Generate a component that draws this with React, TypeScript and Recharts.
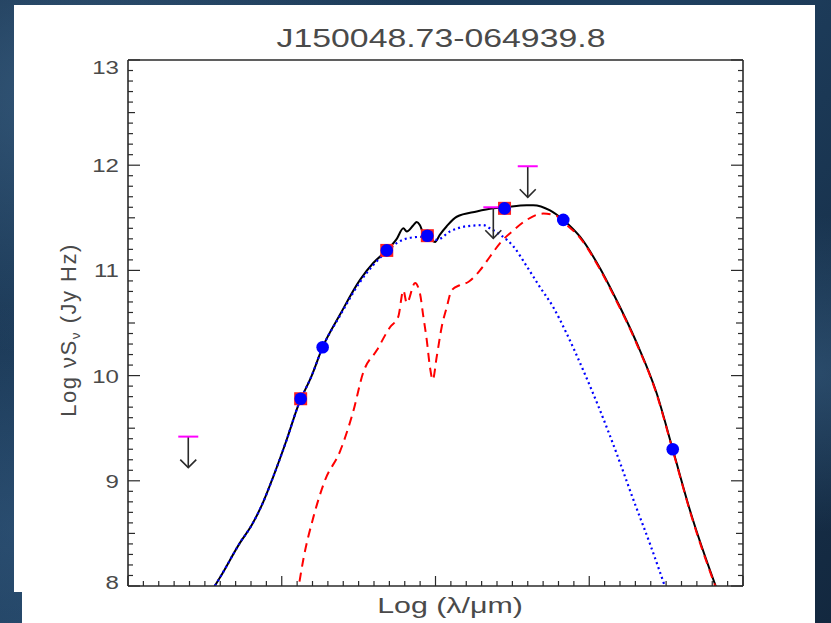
import React from 'react';
import { ComposedChart, Line, Scatter, XAxis, YAxis } from 'recharts';

const TITLE = 'J150048.73-064939.8';

// photometry: log(lambda/um) vs log(nu S_nu / Jy Hz)
const photLogLam = [0.123, 0.266, 0.683, 0.947, 1.449, 1.831, 2.543];
const photLogFlux = [9.78, 10.27, 11.19, 11.33, 11.59, 11.48, 9.3];
// points that sit on a red model square
const photBoxed = [true, false, true, true, true, false, false];

// upper limits
const limLogLam = [-0.608, 1.376, 1.6];
const limLogFlux = [9.42, 11.6, 11.99];

// total model (black solid)
const totalLogLam = [
  -0.47, -0.402, -0.272, -0.195, -0.12, -0.055, 0.032, 0.108, 0.195, 0.266, 0.379, 0.509, 0.595,
  0.683, 0.748, 0.791, 0.813, 0.856, 0.878, 0.899, 0.921, 0.953, 0.997, 1.029, 1.073, 1.138, 1.268,
  1.376, 1.448, 1.593, 1.636, 1.745, 1.831, 1.94, 2.07, 2.156, 2.309, 2.439, 2.543, 2.655, 2.86,
];
const totalLogFlux = [
  7.92, 8.08, 8.41, 8.58, 8.8, 9.04, 9.39, 9.72, 10.0, 10.27, 10.58, 10.91, 11.07,
  11.19, 11.3, 11.4, 11.37, 11.43, 11.46, 11.43, 11.35, 11.32, 11.27, 11.34, 11.42, 11.51, 11.56,
  11.59, 11.6, 11.62, 11.62, 11.57, 11.48, 11.32, 11.02, 10.78, 10.31, 9.83, 9.3, 8.72, 7.85,
];

// stellar component (blue dotted)
const starLogLam = [
  -0.47, -0.402, -0.272, -0.195, -0.12, -0.055, 0.032, 0.108, 0.195, 0.266, 0.379, 0.509, 0.595,
  0.683, 0.748, 0.834, 0.921, 1.008, 1.094, 1.203, 1.311, 1.354, 1.42, 1.506, 1.593, 1.68, 1.766,
  1.853, 1.961, 2.07, 2.178, 2.287, 2.395, 2.51,
];
const starLogFlux = [
  7.92, 8.08, 8.41, 8.58, 8.8, 9.04, 9.39, 9.72, 10.0, 10.27, 10.57, 10.89, 11.05,
  11.18, 11.26, 11.31, 11.32, 11.29, 11.37, 11.42, 11.43, 11.4, 11.34, 11.23, 11.04, 10.84, 10.65,
  10.4, 10.05, 9.67, 9.26, 8.82, 8.4, 7.92,
];

// dust component (red dashed)
const dustLogLam = [
  0.1, 0.14, 0.205, 0.28, 0.379, 0.465, 0.53, 0.618, 0.704, 0.758, 0.791, 0.813, 0.867, 0.899,
  0.921, 0.943, 0.964, 0.982, 1.008, 1.04, 1.073, 1.105, 1.159, 1.213, 1.289, 1.354, 1.42, 1.506,
  1.593, 1.701, 1.786, 1.831, 1.94, 2.07, 2.156, 2.309, 2.439, 2.543, 2.655, 2.86,
];
const dustLogFlux = [
  7.9, 8.25, 8.65, 9.0, 9.28, 9.66, 10.03, 10.24, 10.46, 10.56, 10.81, 10.69, 10.88, 10.78,
  10.56, 10.34, 10.08, 9.96, 10.18, 10.46, 10.65, 10.81, 10.86, 10.89, 11.0, 11.13, 11.26, 11.38,
  11.48, 11.54, 11.52, 11.46, 11.31, 11.01, 10.77, 10.3, 9.82, 9.29, 8.71, 7.84,
];

const xTicks = Array.from({ length: 41 }, (_, i) => -1 + i / 10);
const yTicks = Array.from({ length: 51 }, (_, i) => 8 + i / 10);

const toPoints = (xs: number[], ys: number[]) => xs.map((x, i) => ({ x, y: ys[i] }));
const total = toPoints(totalLogLam, totalLogFlux);
const star = toPoints(starLogLam, starLogFlux);
const dust = toPoints(dustLogLam, dustLogFlux);
const phot = photLogLam.map((x, i) => ({ x, y: photLogFlux[i], boxed: photBoxed[i] }));
const limits = toPoints(limLogLam, limLogFlux);

const INK = '#2a2a2a';
const TEXT = '#4a4a4a';
const FONT = '"Liberation Sans", Arial, Helvetica, sans-serif';
const axisLine = { stroke: INK, strokeWidth: 1.6 };
const tenth = (v: number) => Math.round(v * 10);

function leftTick(props: any) {
  const { x, y, payload } = props;
  const t = tenth(payload.value);
  const len = t % 10 === 0 ? 12 : t % 5 === 0 ? 7 : 5;
  const dy = t === 130 ? 14 : t === 80 ? 3 : 7;
  return (
    <g>
      <line x1={x} x2={x + len} y1={y} y2={y} stroke={INK} strokeWidth={1.2} />
      {t % 10 === 0 && (
        <text
          transform={`translate(${x - 9},${y + dy}) scale(1.3,1)`}
          textAnchor="end"
          fontSize={18.5}
          fontFamily={FONT}
          fill={TEXT}
        >
          {t / 10}
        </text>
      )}
    </g>
  );
}

function rightTick(props: any) {
  const { x, y, payload } = props;
  const t = tenth(payload.value);
  const len = t % 10 === 0 ? 12 : t % 5 === 0 ? 7 : 5;
  return <line x1={x} x2={x - len} y1={y} y2={y} stroke={INK} strokeWidth={1.2} />;
}

function bottomTick(props: any) {
  const { x, y, payload } = props;
  const len = tenth(payload.value) % 10 === 0 ? 10 : 5;
  return <line x1={x} x2={x} y1={y} y2={y - len} stroke={INK} strokeWidth={1.2} />;
}

function topTick(props: any) {
  const { x, y, payload } = props;
  const len = tenth(payload.value) % 10 === 0 ? 10 : 5;
  return <line x1={x} x2={x} y1={y} y2={y + len} stroke={INK} strokeWidth={1.2} />;
}

function photShape(props: any) {
  const { cx, cy, payload } = props;
  return (
    <g>
      {payload.boxed && <rect x={cx - 6.5} y={cy - 6.5} width={13} height={13} fill="#ff2020" />}
      <circle cx={cx} cy={cy} r={6.3} fill="#0000ff" />
    </g>
  );
}

function limitShape(props: any) {
  const { cx, cy } = props;
  return (
    <g>
      <line x1={cx} x2={cx} y1={cy} y2={cy + 31} stroke={INK} strokeWidth={1.6} />
      <polyline
        points={`${cx - 8},${cy + 23} ${cx},${cy + 31} ${cx + 8},${cy + 23}`}
        fill="none"
        stroke={INK}
        strokeWidth={1.6}
      />
      <line x1={cx - 10} x2={cx + 10} y1={cy} y2={cy} stroke="#ff00ff" strokeWidth={2} />
    </g>
  );
}

export default function App() {
  return (
    <div
      style={{
        position: 'fixed',
        left: 0,
        top: 0,
        width: 831,
        height: 623,
        overflow: 'hidden',
        background:
          'radial-gradient(ellipse at 8% 15%, rgba(80,125,165,0.45), transparent 35%),' +
          'radial-gradient(ellipse at 97% 60%, rgba(70,115,155,0.4), transparent 30%),' +
          'radial-gradient(ellipse at 3% 85%, rgba(60,100,140,0.4), transparent 30%),' +
          'linear-gradient(135deg, #17314c 0%, #1f4060 45%, #13283f 100%)',
        fontFamily: FONT,
      }}
    >
      <div style={{ position: 'absolute', left: 14, top: 5, width: 801, height: 587, background: '#fff' }} />
      <div style={{ position: 'absolute', left: 22, top: 592, width: 793, height: 31, background: '#fff' }} />

      <div
        style={{
          position: 'absolute',
          left: 441,
          top: 25,
          fontSize: 26,
          lineHeight: 1,
          color: TEXT,
          whiteSpace: 'nowrap',
          transform: 'translateX(-50%) scaleX(1.3)',
        }}
      >
        {TITLE}
      </div>

      <div
        style={{
          position: 'absolute',
          left: 450,
          top: 595,
          fontSize: 22,
          lineHeight: 1,
          color: TEXT,
          whiteSpace: 'nowrap',
          transform: 'translateX(-50%) scaleX(1.38)',
        }}
      >
        Log (λ/μm)
      </div>

      <div
        style={{
          position: 'absolute',
          left: 70,
          top: 330,
          fontSize: 22,
          lineHeight: 1,
          color: TEXT,
          whiteSpace: 'nowrap',
          letterSpacing: 1.5,
          transform: 'translate(-50%, -50%) rotate(-90deg)',
        }}
      >
        Log νS<span style={{ fontSize: '0.62em', verticalAlign: '-0.3em' }}>ν</span> (Jy Hz)
      </div>

      <div style={{ position: 'absolute', left: 0, top: 0 }}>
        <ComposedChart width={831} height={623} margin={{ top: 59, right: 87, bottom: 36, left: 127 }}>
          <XAxis
            type="number"
            dataKey="x"
            domain={[-1, 3]}
            allowDataOverflow
            ticks={xTicks}
            interval={0}
            height={1}
            tickSize={0}
            tickMargin={0}
            tickLine={false}
            axisLine={axisLine}
            tick={bottomTick}
          />
          <XAxis
            xAxisId="top"
            orientation="top"
            type="number"
            domain={[-1, 3]}
            allowDataOverflow
            ticks={xTicks}
            interval={0}
            height={1}
            tickSize={0}
            tickMargin={0}
            tickLine={false}
            axisLine={axisLine}
            tick={topTick}
          />
          <YAxis
            type="number"
            dataKey="y"
            domain={[8, 13]}
            allowDataOverflow
            ticks={yTicks}
            interval={0}
            width={1}
            tickSize={0}
            tickMargin={0}
            tickLine={false}
            axisLine={axisLine}
            tick={leftTick}
          />
          <YAxis
            yAxisId="right"
            orientation="right"
            type="number"
            domain={[8, 13]}
            allowDataOverflow
            ticks={yTicks}
            interval={0}
            width={1}
            tickSize={0}
            tickMargin={0}
            tickLine={false}
            axisLine={axisLine}
            tick={rightTick}
          />
          <Line
            data={total}
            dataKey="y"
            type="monotone"
            stroke="#000"
            strokeWidth={2}
            dot={false}
            isAnimationActive={false}
          />
          <Line
            data={star}
            dataKey="y"
            type="monotone"
            stroke="#0000ff"
            strokeWidth={2.2}
            strokeDasharray="2 3.2"
            dot={false}
            isAnimationActive={false}
          />
          <Line
            data={dust}
            dataKey="y"
            type="monotone"
            stroke="#ff0000"
            strokeWidth={2}
            strokeDasharray="9 6"
            dot={false}
            isAnimationActive={false}
          />
          <Scatter data={limits} shape={limitShape} isAnimationActive={false} />
          <Scatter data={phot} shape={photShape} isAnimationActive={false} />
        </ComposedChart>
      </div>
    </div>
  );
}
